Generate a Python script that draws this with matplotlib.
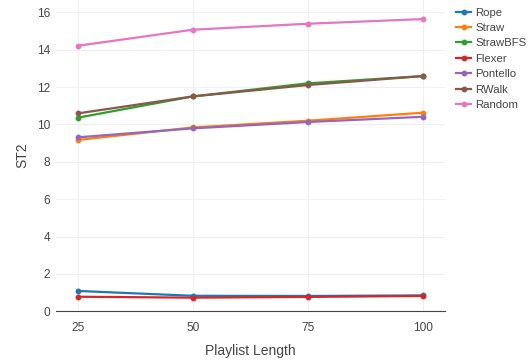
import matplotlib
matplotlib.use("Agg")
import matplotlib.pyplot as plt

plt.rcParams['font.family'] = ['Liberation Sans', 'DejaVu Sans']

lengths = [25, 50, 75, 100]
rope = [1.09, 0.83, 0.82, 0.85]
straw = [9.17, 9.84, 10.20, 10.63]
straw_bfs = [10.36, 11.50, 12.20, 12.59]
flexer = [0.78, 0.73, 0.77, 0.82]
pontello = [9.31, 9.79, 10.13, 10.41]
rwalk = [10.59, 11.50, 12.11, 12.59]
random_walk = [14.21, 15.07, 15.39, 15.64]

series = [
    ("Rope", rope, "#1f77b4"),
    ("Straw", straw, "#ff7f0e"),
    ("StrawBFS", straw_bfs, "#2ca02c"),
    ("Flexer", flexer, "#d62728"),
    ("Pontello", pontello, "#9467bd"),
    ("RWalk", rwalk, "#8c564b"),
    ("Random", random_walk, "#e377c2"),
]

W, H = 529, 361
fig = plt.figure(figsize=(W / 100, H / 100), dpi=100)
ax = fig.add_axes([56 / W, (H - 311.3) / H, (445.3 - 56) / W, 311.3 / H])

for name, vals, color in series:
    ax.plot(lengths, vals, color=color, lw=1.6, marker='o', markersize=3.2,
            label=name, solid_joinstyle='round', clip_on=False)

ax.set_xlim(20.3, 104.8)
ax.set_ylim(0, 16.66)
ax.set_xticks(lengths)
ax.set_yticks(range(0, 17, 2))
ax.grid(True, color='#f0f0f0', lw=0.8)
ax.set_axisbelow(True)
for s in ['top', 'right', 'left']:
    ax.spines[s].set_visible(False)
ax.spines['bottom'].set_color('#444444')
ax.spines['bottom'].set_linewidth(0.8)
ax.tick_params(axis='both', length=0, labelsize=8.6, labelcolor='#444444')
ax.tick_params(axis='x', pad=8)
ax.tick_params(axis='y', pad=4)

ax.set_xlabel("Playlist Length", fontsize=10, color='#444444', labelpad=7)
ax.set_ylabel("ST2", fontsize=10, color='#444444', labelpad=6)

leg = ax.legend(loc='upper left', bbox_to_anchor=(456 / W, 1.0 - 7.5 / H),
                bbox_transform=fig.transFigure, frameon=False, fontsize=8.2,
                handlelength=1.35, handletextpad=0.35, labelspacing=0.48,
                borderaxespad=0, borderpad=0)
for t in leg.get_texts():
    t.set_color('#444444')

fig.savefig("out.png", dpi=100)
